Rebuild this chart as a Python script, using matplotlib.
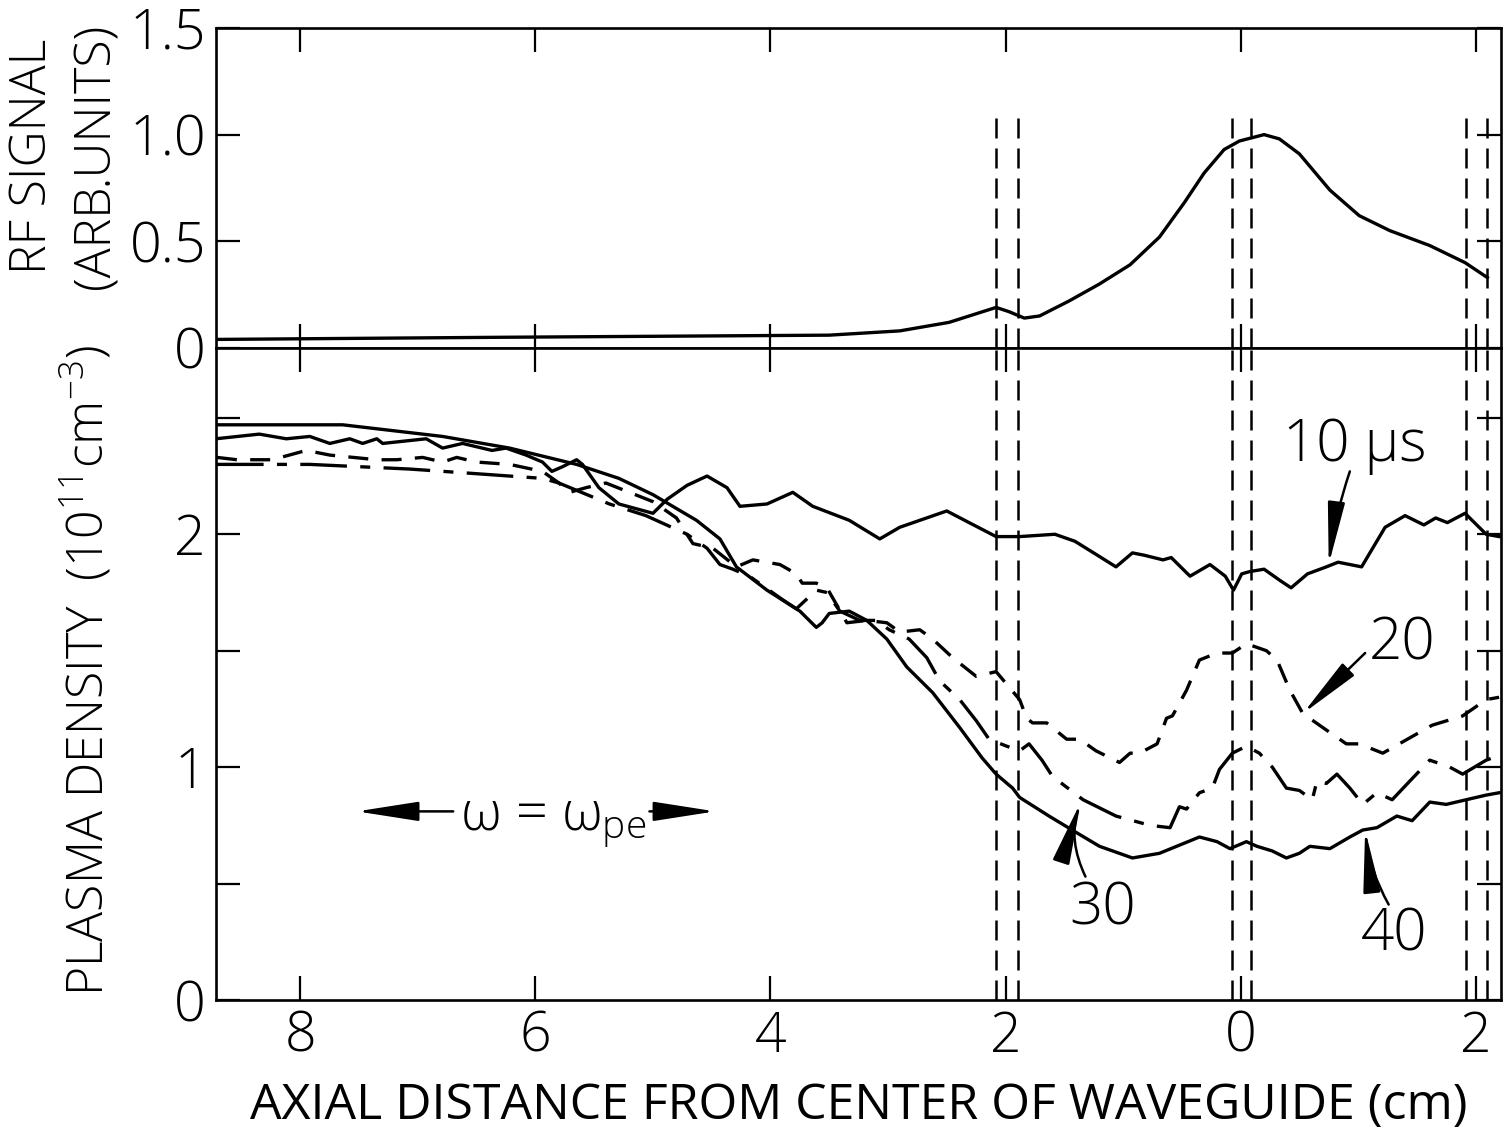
import matplotlib
matplotlib.use('Agg')
import matplotlib.pyplot as plt

# axial position (cm), negative = left of waveguide centre
rf_x = [-8.72, -6.31, -3.50, -2.90, -2.48, -2.08, -1.97, -1.84, -1.71, -1.46, -1.20, -0.94,
        -0.69, -0.48, -0.31, -0.14, -0.01, 0.20, 0.33, 0.50, 0.76, 1.01, 1.27, 1.61, 1.91, 2.10]
rf_y = [0.04, 0.05, 0.06, 0.08, 0.12, 0.19, 0.17, 0.14, 0.15, 0.22, 0.30, 0.39,
        0.52, 0.68, 0.82, 0.93, 0.97, 1.00, 0.98, 0.91, 0.74, 0.62, 0.55, 0.48, 0.40, 0.33]

x10 = [-8.72, -8.35, -8.12, -7.92, -7.75, -7.58, -7.47, -7.35, -7.30, -6.93, -6.79, -6.62,
       -6.37, -6.25, -6.08, -5.94, -5.86, -5.77, -5.65, -5.60, -5.46, -5.29, -5.00, -4.88,
       -4.71, -4.54, -4.37, -4.26, -4.03, -3.81, -3.64, -3.33, -3.07, -2.90, -2.50, -2.31,
       -2.08, -1.88, -1.58, -1.41, -1.25, -1.06, -0.92, -0.82, -0.66, -0.59, -0.43, -0.26,
       -0.13, -0.06, 0.01, 0.08, 0.20, 0.34, 0.43, 0.57, 0.73, 0.83, 1.03, 1.23, 1.40,
       1.56, 1.66, 1.76, 1.91, 1.99, 2.09, 2.20]
n10 = [2.41, 2.43, 2.41, 2.42, 2.39, 2.41, 2.39, 2.41, 2.39, 2.41, 2.37, 2.39,
       2.36, 2.37, 2.34, 2.31, 2.27, 2.29, 2.32, 2.30, 2.20, 2.13, 2.09, 2.15,
       2.21, 2.25, 2.20, 2.12, 2.13, 2.18, 2.12, 2.06, 1.98, 2.03, 2.10, 2.05,
       1.99, 1.99, 2.00, 1.97, 1.92, 1.86, 1.92, 1.91, 1.89, 1.90, 1.82, 1.87,
       1.82, 1.76, 1.83, 1.84, 1.85, 1.80, 1.77, 1.83, 1.86, 1.88, 1.86, 2.03, 2.08,
       2.04, 2.07, 2.05, 2.09, 2.05, 2.00, 1.99]

x20 = [-8.71, -8.54, -8.24, -7.95, -7.75, -7.35, -7.18, -6.96, -6.79, -6.67, -6.50, -6.22,
       -5.94, -5.80, -5.71, -5.57, -5.40, -5.20, -5.00, -4.80, -4.75, -4.66, -4.49, -4.29,
       -4.15, -3.92, -3.78, -3.73, -3.61, -3.52, -3.44, -3.35, -3.18, -3.01, -2.90, -2.73,
       -2.62, -2.45, -2.25, -2.08, -1.88, -1.82, -1.77, -1.65, -1.48, -1.37, -1.23, -1.03,
       -0.94, -0.86, -0.71, -0.63, -0.58, -0.46, -0.35, -0.20, -0.07, 0.05, 0.22, 0.31,
       0.42, 0.53, 0.70, 0.90, 1.01, 1.21, 1.35, 1.63, 1.89, 2.09, 2.20]
n20 = [2.33, 2.32, 2.32, 2.36, 2.34, 2.32, 2.32, 2.33, 2.31, 2.33, 2.31, 2.30,
       2.27, 2.22, 2.18, 2.20, 2.22, 2.18, 2.14, 2.07, 2.03, 1.96, 1.94, 1.86,
       1.89, 1.87, 1.83, 1.79, 1.79, 1.77, 1.70, 1.62, 1.63, 1.62, 1.58, 1.59,
       1.55, 1.47, 1.39, 1.41, 1.29, 1.21, 1.19, 1.19, 1.12, 1.12, 1.07, 1.02,
       1.06, 1.06, 1.10, 1.21, 1.22, 1.33, 1.46, 1.49, 1.49, 1.53, 1.50, 1.46,
       1.33, 1.23, 1.17, 1.10, 1.10, 1.06, 1.10, 1.18, 1.22, 1.29, 1.30]

x30 = [-8.71, -7.92, -7.07, -6.50, -5.94, -5.80, -5.37, -5.06, -4.71, -4.54, -4.43, -4.32,
       -4.18, -3.90, -3.78, -3.61, -3.52, -3.41, -3.24, -3.10, -2.99, -2.82, -2.67, -2.56,
       -2.39, -2.25, -2.14, -1.99, -1.88, -1.80, -1.69, -1.60, -1.34, -1.06, -0.77, -0.60,
       -0.52, -0.46, -0.35, -0.24, -0.18, -0.07, 0.05, 0.16, 0.27, 0.39, 0.50, 0.61,
       0.65, 0.73, 0.82, 0.93, 1.04, 1.16, 1.29, 1.44, 1.61, 1.78, 1.89, 2.09, 2.20]
n30 = [2.30, 2.30, 2.28, 2.26, 2.24, 2.22, 2.13, 2.08, 2.00, 1.94, 1.87, 1.85,
       1.82, 1.72, 1.68, 1.76, 1.75, 1.67, 1.63, 1.63, 1.59, 1.55, 1.47, 1.37,
       1.29, 1.20, 1.12, 1.09, 1.07, 1.10, 1.03, 0.96, 0.86, 0.79, 0.75, 0.74,
       0.83, 0.82, 0.89, 0.91, 0.99, 1.06, 1.09, 1.06, 1.00, 0.91, 0.90, 0.86,
       0.94, 0.93, 0.97, 0.91, 0.84, 0.89, 0.86, 0.94, 1.03, 1.00, 0.97, 1.03, 1.05]

x40 = [-8.72, -7.64, -6.79, -6.22, -5.65, -5.29, -5.00, -4.63, -4.43, -4.29, -4.03, -3.75,
       -3.61, -3.56, -3.50, -3.33, -3.18, -3.01, -2.84, -2.62, -2.39, -2.20, -2.08, -1.94,
       -1.88, -1.63, -1.40, -1.20, -0.92, -0.69, -0.35, -0.20, -0.09, 0.05, 0.14, 0.27,
       0.39, 0.50, 0.59, 0.76, 0.93, 1.04, 1.16, 1.33, 1.46, 1.61, 1.75, 1.92, 2.09, 2.20]
n40 = [2.47, 2.47, 2.42, 2.37, 2.30, 2.24, 2.17, 2.06, 1.98, 1.86, 1.76, 1.67,
       1.60, 1.62, 1.66, 1.67, 1.63, 1.55, 1.43, 1.32, 1.17, 1.04, 0.97, 0.91,
       0.87, 0.79, 0.72, 0.66, 0.61, 0.63, 0.70, 0.68, 0.65, 0.68, 0.66, 0.64,
       0.61, 0.63, 0.66, 0.65, 0.70, 0.73, 0.74, 0.79, 0.77, 0.85, 0.84, 0.86, 0.88, 0.89]

# waveguide edges (dashed verticals)
edges = [-2.08, -1.89, -0.07, 0.09, 1.92, 2.10]

xticks = [-8, -6, -4, -2, 0, 2]
xticklabels = ['8', '6', '4', '2', '0', '2']

plt.rcParams['font.family'] = ['Open Sans', 'DejaVu Sans']
plt.rcParams['font.weight'] = 300
plt.rcParams['mathtext.fontset'] = 'custom'
plt.rcParams['mathtext.rm'] = 'Open Sans:weight=300'
plt.rcParams['mathtext.it'] = 'Open Sans:weight=300'

fig = plt.figure(figsize=(15.09, 11.36), dpi=100)
ax1 = fig.add_axes([0.143, 0.6937, 0.852, 0.2817])
ax2 = fig.add_axes([0.143, 0.1197, 0.852, 0.574])

lw = 2.4
fs = 36     # axis labels
tfs = 40    # tick labels
cfs = 42    # curve labels

ax1.plot(rf_x, rf_y, color='k', lw=lw)
for e in edges:
    ax1.plot([e, e], [0, 1.08], color='k', lw=1.8, dashes=(8, 4))
    ax2.axvline(e, color='k', lw=1.8, dashes=(8, 4))

ax2.plot(x10, n10, color='k', lw=lw)
ax2.plot(x20, n20, color='k', lw=lw, dashes=(6, 4))
ax2.plot(x30, n30, color='k', lw=lw, dashes=(14, 4, 3, 4))
ax2.plot(x40, n40, color='k', lw=lw)

for ax in (ax1, ax2):
    ax.set_xlim(-8.72, 2.22)
    ax.set_xticks(xticks)
    ax.tick_params(direction='in', length=17, width=1.6, top=True, right=True,
                   labelsize=tfs, pad=7)
    for s in ax.spines.values():
        s.set_linewidth(1.9)

ax1.set_ylim(0, 1.5)
ax1.set_yticks([0, 0.5, 1.0, 1.5])
ax1.set_yticklabels(['0', '0.5', '1.0', '1.5'])
ax1.set_xticklabels([])

ax2.set_ylim(0, 2.8)
ax2.set_yticks([0, 1, 2])
ax2.set_yticklabels(['0', '1', '2'])
ax2.set_yticks([0.5, 1.5, 2.5], minor=True)
ax2.tick_params(which='minor', direction='in', length=17, width=1.6, right=True)
ax2.set_xticklabels(xticklabels)
ax2.set_xlabel('AXIAL DISTANCE FROM CENTER OF WAVEGUIDE (cm)', fontsize=fs, labelpad=12)

fig.text(0.022, 0.862, 'RF SIGNAL', rotation=90, ha='center', va='center', fontsize=fs)
fig.text(0.064, 0.862, '(ARB.UNITS)', rotation=90, ha='center', va='center', fontsize=fs)
fig.text(0.058, 0.41, 'PLASMA DENSITY  (10$^{11}$cm$^{-3}$)', rotation=90,
         ha='center', va='center', fontsize=fs)

# curve labels with arrows
ap = dict(arrowstyle='-|>,head_length=1.6,head_width=0.22', color='k', lw=1.8,
          mutation_scale=24, shrinkA=0, shrinkB=0)
ax2.text(0.97, 2.38, '10 μs', fontsize=cfs, ha='center', va='center')
ax2.annotate('', xy=(0.75, 1.87), xytext=(0.93, 2.27),
             arrowprops=dict(ap, connectionstyle='arc3,rad=0.05'))
ax2.text(1.37, 1.53, '20', fontsize=cfs, ha='center', va='center')
ax2.annotate('', xy=(0.53, 1.23), xytext=(1.06, 1.49),
             arrowprops=dict(ap, connectionstyle='arc3,rad=0.0'))
ax2.text(-1.17, 0.39, '30', fontsize=cfs, ha='center', va='center')
ax2.annotate('', xy=(-1.36, 0.85), xytext=(-1.32, 0.53),
             arrowprops=dict(ap, connectionstyle='arc3,rad=-0.2'))
ax2.text(1.31, 0.28, '40', fontsize=cfs, ha='center', va='center')
ax2.annotate('', xy=(1.06, 0.73), xytext=(1.26, 0.41),
             arrowprops=dict(ap, connectionstyle='arc3,rad=-0.1'))

ax2.text(-5.85, 0.73, r'$\omega$ = $\omega_{\rm pe}$', fontsize=40, ha='center', va='baseline')
ap2 = dict(arrowstyle='-|>,head_length=1.6,head_width=0.25', color='k', lw=1.8,
           mutation_scale=24, shrinkA=0, shrinkB=0)
ax2.annotate('', xy=(-7.52, 0.81), xytext=(-6.70, 0.81), arrowprops=ap2)
ax2.annotate('', xy=(-4.47, 0.81), xytext=(-5.03, 0.81), arrowprops=ap2)

fig.savefig('out.png', dpi=100)
